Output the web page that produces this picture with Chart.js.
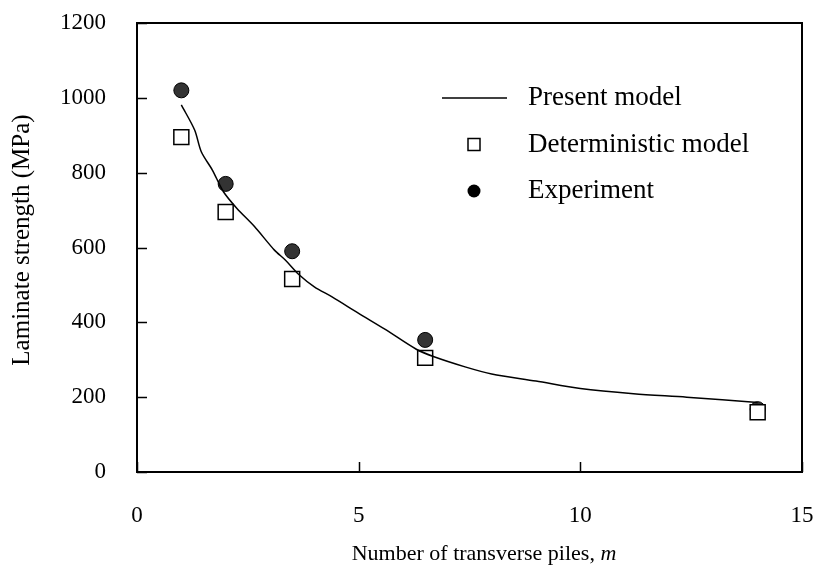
<!DOCTYPE html>
<html>
<head>
<meta charset="utf-8">
<script src="https://cdn.jsdelivr.net/npm/chart.js@4"></script>
<style>
  html, body { margin: 0; padding: 0; background: #fff; }
  #wrap { width: 817px; height: 579px; }
</style>
</head>
<body>
<div id="wrap"><canvas id="chart" width="817" height="579"></canvas></div>
<script>
  // Present model curve
  const modelX = [1, 1.3, 1.45, 1.7, 1.95, 2.25, 2.65, 3.1, 3.35, 3.65, 4, 4.4, 5, 5.6, 6.3, 6.7, 7.4, 8, 9, 10, 11.2, 12.4, 14];
  const modelY = [981, 914, 856, 807, 749, 705, 656, 593, 566, 528, 495, 468, 424, 381, 328, 308, 281, 262, 243, 223, 209, 200, 186];

  // Discrete points
  const pointX = [1, 2, 3.5, 6.5, 14];
  const deterministic = [895, 695, 516, 305, 160];
  const experiment = [1020, 770, 590, 353, 168];

  const seriesLabels = ['Present model', 'Deterministic model', 'Experiment'];
  const xTitle = 'Number of transverse piles, ';
  const xTitleItalic = 'm';
  const yTitle = 'Laminate strength (MPa)';

  const FONT = '"Liberation Serif", "Times New Roman", serif';
  const toXY = (xs, ys) => xs.map((x, i) => ({ x: x, y: ys[i] }));

  // frame, inward ticks, axis titles and legend
  const decor = {
    id: 'decor',
    afterDraw(chart) {
      const { ctx, chartArea: a, scales } = chart;
      ctx.save();
      ctx.strokeStyle = '#000';
      ctx.lineWidth = 2;
      ctx.strokeRect(a.left, a.top, a.right - a.left, a.bottom - a.top);

      ctx.lineWidth = 1.5;
      ctx.beginPath();
      scales.y.ticks.forEach(t => {
        const py = Math.round(scales.y.getPixelForValue(t.value)) + 0.5;
        ctx.moveTo(a.left, py); ctx.lineTo(a.left + 10, py);
      });
      scales.x.ticks.forEach(t => {
        const px = Math.round(scales.x.getPixelForValue(t.value)) + 0.5;
        ctx.moveTo(px, a.bottom); ctx.lineTo(px, a.bottom - 10);
      });
      ctx.stroke();

      // x axis title with italic m
      ctx.fillStyle = '#000';
      ctx.textBaseline = 'middle';
      ctx.font = '22px ' + FONT;
      const w1 = ctx.measureText(xTitle).width;
      ctx.font = 'italic 22px ' + FONT;
      const w2 = ctx.measureText(xTitleItalic).width;
      const sx = 484 - (w1 + w2) / 2;
      ctx.font = '22px ' + FONT;
      ctx.textAlign = 'left';
      ctx.fillText(xTitle, sx, 554);
      ctx.font = 'italic 22px ' + FONT;
      ctx.fillText(xTitleItalic, sx + w1, 554);

      // y axis title
      ctx.save();
      ctx.translate(22, 240);
      ctx.rotate(-Math.PI / 2);
      ctx.textAlign = 'center';
      ctx.font = '25px ' + FONT;
      ctx.fillText(yTitle, 0, 0);
      ctx.restore();

      // legend
      ctx.textAlign = 'left';
      ctx.font = '27px ' + FONT;
      chart.data.datasets.forEach((ds, i) => {
        const ly = 98 + i * 46.5;
        if (i === 0) {
          ctx.lineWidth = 1.5;
          ctx.beginPath();
          ctx.moveTo(442, ly); ctx.lineTo(507, ly);
          ctx.stroke();
        } else if (i === 1) {
          ctx.lineWidth = 1.5;
          ctx.strokeRect(468, ly - 6, 12, 12);
        } else {
          ctx.beginPath();
          ctx.arc(474, ly, 6.5, 0, Math.PI * 2);
          ctx.fillStyle = '#000';
          ctx.fill();
        }
        ctx.fillStyle = '#000';
        ctx.fillText(ds.label, 528, ly);
      });
      ctx.restore();
    }
  };

  new Chart(document.getElementById('chart'), {
    type: 'scatter',
    data: {
      datasets: [
        {
          label: seriesLabels[0],
          data: toXY(modelX, modelY),
          showLine: true,
          borderColor: '#000',
          borderWidth: 1.5,
          pointRadius: 0,
          tension: 0.3,
          order: 0
        },
        {
          label: seriesLabels[1],
          data: toXY(pointX, deterministic),
          pointStyle: 'rect',
          pointRadius: 10.6,
          backgroundColor: '#fff',
          borderColor: '#000',
          borderWidth: 1.5,
          order: 1
        },
        {
          label: seriesLabels[2],
          data: toXY(pointX, experiment),
          pointStyle: 'circle',
          pointRadius: 7.5,
          backgroundColor: '#333',
          borderColor: '#000',
          borderWidth: 1,
          order: 2
        }
      ]
    },
    options: {
      responsive: false,
      animation: false,
      layout: { padding: { left: 0, top: 23, right: 15, bottom: 0 } },
      plugins: { legend: { display: false }, tooltip: { enabled: false } },
      scales: {
        x: {
          type: 'linear',
          min: 0, max: 15,
          afterFit: s => { s.height = 107; s.paddingLeft = 0; s.paddingRight = 0; },
          grid: { display: false, drawTicks: false },
          border: { display: false },
          ticks: { stepSize: 5, padding: 30, color: '#000', font: { family: FONT, size: 23 }, maxRotation: 0,
                   callback: v => String(v) }
        },
        y: {
          min: 0, max: 1200,
          afterFit: s => { s.width = 137; s.paddingTop = 0; s.paddingBottom = 0; },
          grid: { display: false, drawTicks: false },
          border: { display: false },
          ticks: { stepSize: 200, padding: 31, color: '#000', font: { family: FONT, size: 23 },
                   callback: v => String(v) }
        }
      }
    },
    plugins: [decor]
  });
</script>
</body>
</html>
